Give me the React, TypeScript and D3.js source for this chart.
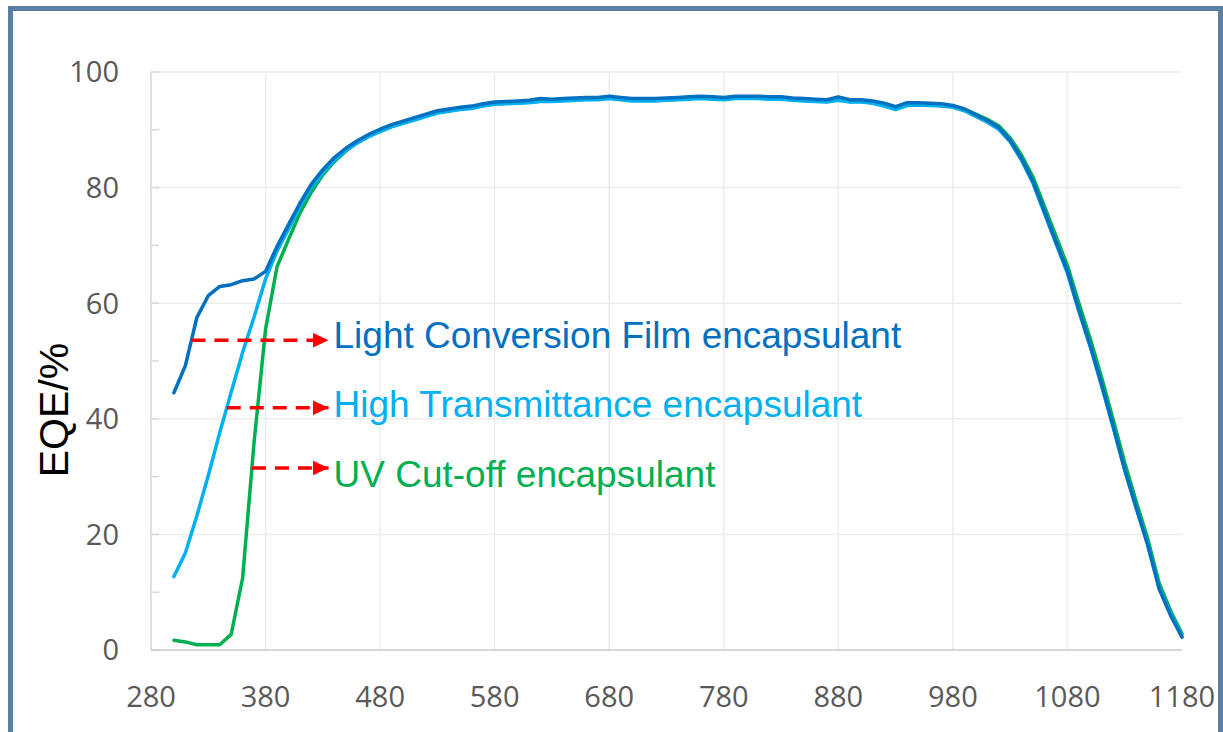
import React, { useEffect, useRef } from 'react';
import * as d3 from 'd3';

// wavelength (nm)
const wavelength = [
  300, 310, 320, 330, 340, 350, 360, 370, 380, 390,
  400, 410, 420, 430, 440, 450, 460, 470, 480, 490,
  500, 510, 520, 530, 540, 550, 560, 570, 580, 590,
  600, 610, 620, 630, 640, 650, 660, 670, 680, 690,
  700, 710, 720, 730, 740, 750, 760, 770, 780, 790,
  800, 810, 820, 830, 840, 850, 860, 870, 880, 890,
  900, 910, 920, 930, 940, 950, 960, 970, 980, 990,
  1000, 1010, 1020, 1030, 1040, 1050, 1060, 1070, 1080, 1090,
  1100, 1110, 1120, 1130, 1140, 1150, 1160, 1170, 1180,
];

// EQE (%) - Light Conversion Film encapsulant
const lcfEqe = [
  44.5, 49.2, 57.5, 61.3, 62.9, 63.2, 63.9, 64.2, 65.5, 69.8,
  73.6, 77.3, 80.6, 83.1, 85.2, 86.8, 88.1, 89.2, 90.1, 90.9,
  91.5, 92.1, 92.7, 93.3, 93.6, 93.9, 94.1, 94.5, 94.8, 94.9,
  95.0, 95.1, 95.4, 95.3, 95.4, 95.5, 95.6, 95.6, 95.8, 95.6,
  95.4, 95.4, 95.4, 95.5, 95.6, 95.7, 95.8, 95.7, 95.6, 95.8,
  95.8, 95.8, 95.7, 95.7, 95.5, 95.4, 95.3, 95.2, 95.7, 95.2,
  95.2, 95.0, 94.6, 94.0, 94.7, 94.7, 94.6, 94.5, 94.2, 93.6,
  92.6, 91.6, 90.4, 88.2, 85.0, 81.0, 75.8, 70.6, 65.5, 58.8,
  52.6, 45.8, 38.6, 31.2, 24.6, 18.2, 10.6, 6.0, 2.2,
];

// EQE (%) - High Transmittance encapsulant
const htEqe = [
  12.7, 16.8, 23.2, 30.2, 37.6, 44.6, 51.5, 57.6, 64.2, 69.0,
  72.8, 76.7, 80.0, 82.6, 84.7, 86.4, 87.7, 88.8, 89.7, 90.5,
  91.1, 91.7, 92.3, 92.9, 93.2, 93.5, 93.7, 94.1, 94.4, 94.5,
  94.6, 94.7, 94.9, 94.9, 95.0, 95.1, 95.2, 95.2, 95.4, 95.2,
  95.0, 95.0, 95.0, 95.1, 95.2, 95.3, 95.4, 95.3, 95.2, 95.4,
  95.4, 95.4, 95.3, 95.3, 95.1, 95.0, 94.9, 94.8, 95.1, 94.8,
  94.8, 94.6, 94.1, 93.5, 94.2, 94.3, 94.2, 94.1, 93.9, 93.3,
  92.3, 91.3, 90.1, 87.9, 84.7, 80.7, 75.5, 70.3, 65.2, 58.6,
  52.4, 45.6, 38.5, 31.1, 24.6, 18.3, 10.8, 6.3, 2.4,
];

// EQE (%) - UV Cut-off encapsulant
const uvEqe = [
  1.7, 1.4, 0.9, 0.9, 0.9, 2.7, 12.5, 36.0, 55.5, 66.3,
  71.0, 75.6, 79.2, 82.2, 84.5, 86.3, 87.8, 88.9, 89.8, 90.6,
  91.2, 91.8, 92.4, 93.0, 93.3, 93.6, 93.8, 94.2, 94.5, 94.6,
  94.7, 94.8, 95.0, 95.0, 95.1, 95.2, 95.3, 95.3, 95.5, 95.3,
  95.1, 95.1, 95.1, 95.2, 95.3, 95.4, 95.5, 95.4, 95.3, 95.5,
  95.5, 95.5, 95.4, 95.4, 95.2, 95.1, 95.0, 94.9, 95.2, 94.9,
  94.9, 94.7, 94.3, 93.7, 94.4, 94.5, 94.4, 94.3, 94.1, 93.6,
  92.7, 91.8, 90.7, 88.6, 85.6, 81.8, 76.7, 71.6, 66.5, 60.0,
  53.8, 47.0, 39.8, 32.4, 25.7, 19.3, 11.6, 6.8, 2.8,
];

const xTicks = [280, 380, 480, 580, 680, 780, 880, 980, 1080, 1180];
const yTicks = [0, 20, 40, 60, 80, 100];
const yMinorTicks = [0, 10, 20, 30, 40, 50, 60, 70, 80, 90, 100];

const seriesNames = [
  'Light Conversion Film encapsulant',
  'High Transmittance encapsulant',
  'UV Cut-off encapsulant',
];
const seriesValues = [lcfEqe, htEqe, uvEqe];
const seriesColors = ['#0070C0', '#00B0F0', '#00B050'];

// EQE level of each red arrow, and of each label's baseline
const arrowLevels = [53.6, 41.9, 31.5];
const labelLevels = [52.2, 40.3, 28.2];
const arrowTip = 435; // nm

const W = 1223;
const H = 732;

// where a series first rises through a level
function crossing(vals: number[], level: number) {
  for (let i = 1; i < vals.length; i++) {
    if (vals[i - 1] <= level && vals[i] >= level) {
      const t = (level - vals[i - 1]) / (vals[i] - vals[i - 1]);
      return wavelength[i - 1] + t * (wavelength[i] - wavelength[i - 1]);
    }
  }
  return wavelength[0];
}

export default function App() {
  const ref = useRef<SVGSVGElement>(null);

  useEffect(() => {
    const svg = d3.select(ref.current);
    svg.selectAll('*').remove();

    const x = d3.scaleLinear().domain([280, 1180]).range([151, 1182]);
    const y = d3.scaleLinear().domain([0, 100]).range([650, 72]);

    svg.append('rect').attr('width', W).attr('height', H).attr('fill', '#fff');

    // grid
    svg.append('g')
      .selectAll('line')
      .data(yTicks.filter((d) => d > 0))
      .enter()
      .append('line')
      .attr('x1', x(280)).attr('x2', x(1180))
      .attr('y1', (d) => y(d)).attr('y2', (d) => y(d))
      .attr('stroke', '#EDEDED').attr('stroke-width', 1.5);

    svg.append('g')
      .selectAll('line')
      .data(xTicks.slice(1, -1))
      .enter()
      .append('line')
      .attr('x1', (d) => x(d)).attr('x2', (d) => x(d))
      .attr('y1', y(100)).attr('y2', y(0))
      .attr('stroke', '#EDEDED').attr('stroke-width', 1.5);

    // axes
    svg.append('line')
      .attr('x1', x(280)).attr('x2', x(280))
      .attr('y1', y(100)).attr('y2', y(0))
      .attr('stroke', '#D9D9D9').attr('stroke-width', 1.5);
    svg.append('g')
      .selectAll('line')
      .data(yMinorTicks)
      .enter()
      .append('line')
      .attr('x1', x(280)).attr('x2', x(280) + 8)
      .attr('y1', (d) => y(d)).attr('y2', (d) => y(d))
      .attr('stroke', '#D9D9D9').attr('stroke-width', 1.5);
    svg.append('line')
      .attr('x1', x(280)).attr('x2', x(1180))
      .attr('y1', y(0)).attr('y2', y(0))
      .attr('stroke', '#C8C8C8').attr('stroke-width', 1.5);

    svg.append('g')
      .selectAll('text')
      .data(yTicks)
      .enter()
      .append('text')
      .attr('x', x(280) - 32)
      .attr('y', (d) => y(d))
      .attr('dy', '0.36em')
      .attr('text-anchor', 'end')
      .attr('font-family', 'Open Sans, sans-serif')
      .attr('font-size', 29)
      .attr('fill', '#595959')
      .text((d) => d);

    svg.append('g')
      .selectAll('text')
      .data(xTicks)
      .enter()
      .append('text')
      .attr('x', (d) => x(d))
      .attr('y', 707)
      .attr('text-anchor', 'middle')
      .attr('font-family', 'Open Sans, sans-serif')
      .attr('font-size', 29)
      .attr('fill', '#595959')
      .text((d) => d);

    svg.append('text')
      .attr('transform', `translate(68,${y(41.5)}) rotate(-90)`)
      .attr('text-anchor', 'middle')
      .attr('font-family', 'Liberation Sans, Arial, sans-serif')
      .attr('font-size', 41)
      .attr('fill', '#000')
      .text('EQE/%');

    // curves, dark blue on top
    const line = d3.line<number>()
      .x((_, i) => x(wavelength[i]))
      .y((d) => y(d));

    [2, 1, 0].forEach((k) => {
      svg.append('path')
        .datum(seriesValues[k])
        .attr('d', line)
        .attr('fill', 'none')
        .attr('stroke', seriesColors[k])
        .attr('stroke-width', 3.5)
        .attr('stroke-linejoin', 'round')
        .attr('stroke-linecap', 'round');
    });

    // red arrows and labels
    const defs = svg.append('defs');
    defs.append('marker')
      .attr('id', 'arrowHead')
      .attr('viewBox', '0 0 16 15')
      .attr('refX', 16).attr('refY', 7.5)
      .attr('markerWidth', 16).attr('markerHeight', 15)
      .attr('markerUnits', 'userSpaceOnUse')
      .attr('orient', 'auto')
      .append('path')
      .attr('d', 'M0,0 L16,7.5 L0,15 Z')
      .attr('fill', '#FF0000');

    seriesNames.forEach((name, k) => {
      const start = crossing(seriesValues[k], arrowLevels[k]);
      svg.append('line')
        .attr('x1', x(start)).attr('x2', x(arrowTip))
        .attr('y1', y(arrowLevels[k])).attr('y2', y(arrowLevels[k]))
        .attr('stroke', '#FF0000')
        .attr('stroke-width', 3.5)
        .attr('stroke-dasharray', '14,9')
        .attr('marker-end', 'url(#arrowHead)');

      svg.append('text')
        .attr('x', x(arrowTip) + 5)
        .attr('y', y(labelLevels[k]))
        .attr('font-family', 'Liberation Sans, Arial, sans-serif')
        .attr('font-size', 37)
        .attr('fill', seriesColors[k])
        .text(name);
    });

    // frame
    svg.append('rect')
      .attr('x', 10.5).attr('y', 8.5)
      .attr('width', 1210).attr('height', 760)
      .attr('fill', 'none')
      .attr('stroke', '#5A7EA4')
      .attr('stroke-width', 5);
  }, []);

  return (
    <div style={{ position: 'absolute', left: 0, top: 0 }}>
      <svg ref={ref} width={W} height={H} style={{ display: 'block' }}></svg>
    </div>
  );
}
